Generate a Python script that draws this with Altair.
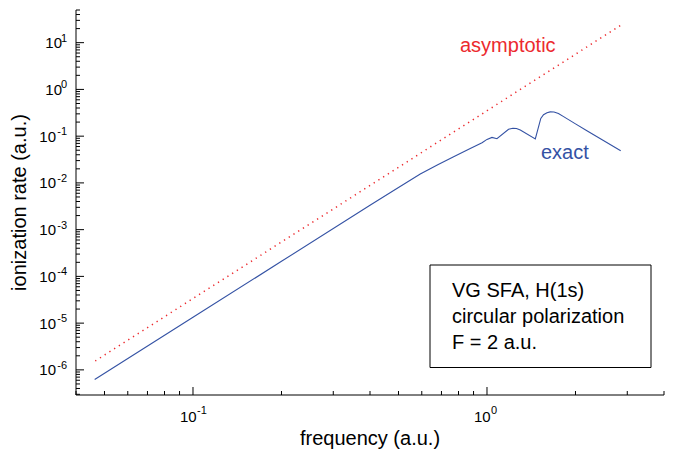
import altair as alt
import pandas as pd

# ---- data ----
freq_exact = [0.0463, 0.1, 0.2, 0.4, 0.5, 0.593, 0.68, 0.77, 0.877, 0.962, 1.0, 1.04,
              1.081, 1.184, 1.225, 1.26, 1.298, 1.46, 1.524, 1.557, 1.600, 1.64, 1.69,
              1.75, 1.822, 2.0, 2.187, 2.85]
rate_exact = [6.2e-7, 1.33e-5, 2.10e-4, 3.33e-3, 8.0e-3, 0.0155, 0.0245, 0.0362, 0.0545,
              0.0722, 0.0853, 0.0942, 0.088, 0.140, 0.148, 0.146, 0.135, 0.0875, 0.240,
              0.287, 0.318, 0.330, 0.328, 0.305, 0.262, 0.183, 0.131, 0.0487]

freq_asym = [0.0465, 0.1, 0.3, 1.0, 2.85]
rate_asym = [1.55e-6, 3.36e-5, 2.77e-3, 0.35, 23.5]

x_major = [0.1, 1.0]
x_major_exp = ["-1", "0"]
y_major = [1e-6, 1e-5, 1e-4, 1e-3, 1e-2, 1e-1, 1e0, 1e1]
y_major_exp = ["-6", "-5", "-4", "-3", "-2", "-1", "0", "1"]
x_minor = [0.04, 0.05, 0.06, 0.07, 0.08, 0.09, 0.2, 0.3, 0.4, 0.5, 0.6, 0.7,
           0.8, 0.9, 2.0, 3.0, 4.0]
y_minor = [m * 10.0 ** e for e in range(-7, 2) for m in range(2, 10)
           if 2.9e-7 <= m * 10.0 ** e <= 50]

x_title = "frequency (a.u.)"
y_title = "ionization rate (a.u.)"
info_lines = ["VG SFA, H(1s)", "circular polarization", "F = 2 a.u."]

FONT = "Liberation Sans"
BLUE = "#3452a4"
RED = "#ec2a2e"
W, H = 588, 385

xs = alt.Scale(type="log", domain=[0.04, 4])
ys = alt.Scale(type="log", domain=[2.9e-7, 50])

exact = pd.DataFrame({"f": freq_exact, "r": rate_exact})
asym = pd.DataFrame({"f": freq_asym, "r": rate_asym})
one = pd.DataFrame({"k": [0]})

X = alt.X("f:Q", scale=xs, axis=None)
Y = alt.Y("r:Q", scale=ys, axis=None)

line_exact = alt.Chart(exact).mark_line(color=BLUE, strokeWidth=1.1).encode(x=X, y=Y)
line_asym = alt.Chart(asym).mark_line(
    color=RED, strokeWidth=1.5, strokeDash=[1.3, 4.3]).encode(x=X, y=Y)

# ---- axis lines ----
x_dom = alt.Chart(one).mark_rule(color="black", strokeWidth=1).encode(
    x=alt.value(0), x2=alt.value(W), y=alt.value(H))
y_dom = alt.Chart(one).mark_rule(color="black", strokeWidth=1).encode(
    x=alt.value(0), y=alt.value(0), y2=alt.value(H))

# ---- inward ticks ----
def xticks(vals, length):
    return alt.Chart(pd.DataFrame({"f": vals})).mark_rule(color="black", strokeWidth=1).encode(
        x=X, y=alt.value(H), y2=alt.value(H - length))

def yticks(vals, length):
    return alt.Chart(pd.DataFrame({"r": vals})).mark_rule(color="black", strokeWidth=1).encode(
        y=Y, x=alt.value(0), x2=alt.value(length))

# ---- tick labels (10 with superscript exponent) ----
xlab = pd.DataFrame({"f": x_major, "e": x_major_exp})
xl_base = alt.Chart(xlab).mark_text(
    text="10", font=FONT, fontSize=15, align="center", baseline="alphabetic",
    dx=-4.7, color="black").encode(x=X, y=alt.value(411.7))
xl_exp = alt.Chart(xlab).mark_text(
    font=FONT, fontSize=11, align="left", baseline="alphabetic", dx=4,
    color="black").encode(x=X, y=alt.value(404.3), text="e:N")

ylab = pd.DataFrame({"r": y_major, "e": y_major_exp})
yl_exp = alt.Chart(ylab).mark_text(
    font=FONT, fontSize=11, align="right", baseline="alphabetic", dy=-1,
    color="black").encode(y=Y, x=alt.value(-9), text="e:N")
yl_base_neg = alt.Chart(ylab).transform_filter("datum.r < 1").mark_text(
    text="10", font=FONT, fontSize=15, align="right", baseline="alphabetic",
    dy=5.5, color="black").encode(y=Y, x=alt.value(-20))
yl_base_pos = alt.Chart(ylab).transform_filter("datum.r >= 1").mark_text(
    text="10", font=FONT, fontSize=15, align="right", baseline="alphabetic",
    dy=5.5, color="black").encode(y=Y, x=alt.value(-14))

# ---- axis titles ----
xt = alt.Chart(one).mark_text(
    text=x_title, font=FONT, fontSize=20, align="center", baseline="alphabetic",
    color="black").encode(x=alt.value(W / 2), y=alt.value(H + 50))
yt = alt.Chart(one).mark_text(
    text=y_title, font=FONT, fontSize=20, align="center", baseline="alphabetic",
    angle=270, color="black").encode(x=alt.value(-50), y=alt.value(H / 2))

# ---- annotations ----
lab_asym = alt.Chart(one).mark_text(
    text="asymptotic", font=FONT, fontSize=20, align="left", baseline="alphabetic",
    color=RED).encode(x=alt.value(384), y=alt.value(42))
lab_exact = alt.Chart(one).mark_text(
    text="exact", font=FONT, fontSize=20, align="left", baseline="alphabetic",
    color=BLUE).encode(x=alt.value(465), y=alt.value(149))

box = alt.Chart(one).mark_rect(fill="white", stroke="black", strokeWidth=1).encode(
    x=alt.value(354), x2=alt.value(575), y=alt.value(255), y2=alt.value(357.5))
box_text = alt.Chart(one).mark_text(
    text="\n".join(info_lines), lineBreak="\n", lineHeight=26, font=FONT, fontSize=20,
    align="left", baseline="alphabetic", color="black").encode(
    x=alt.value(376), y=alt.value(286.5))

chart = alt.layer(
    line_exact, line_asym, x_dom, y_dom,
    xticks(x_major, 8), xticks(x_minor, 4), yticks(y_major, 8), yticks(y_minor, 4),
    xl_base, xl_exp, yl_exp, yl_base_neg, yl_base_pos, xt, yt,
    lab_asym, lab_exact, box, box_text,
).properties(
    width=W, height=H,
    autosize=alt.AutoSizeParams(type="none"),
    padding={"left": 68, "top": 2, "right": 5, "bottom": 58},
    background="white",
).configure_view(stroke="transparent")

chart.save("out.html", embed_options={"renderer": "svg", "actions": False})
